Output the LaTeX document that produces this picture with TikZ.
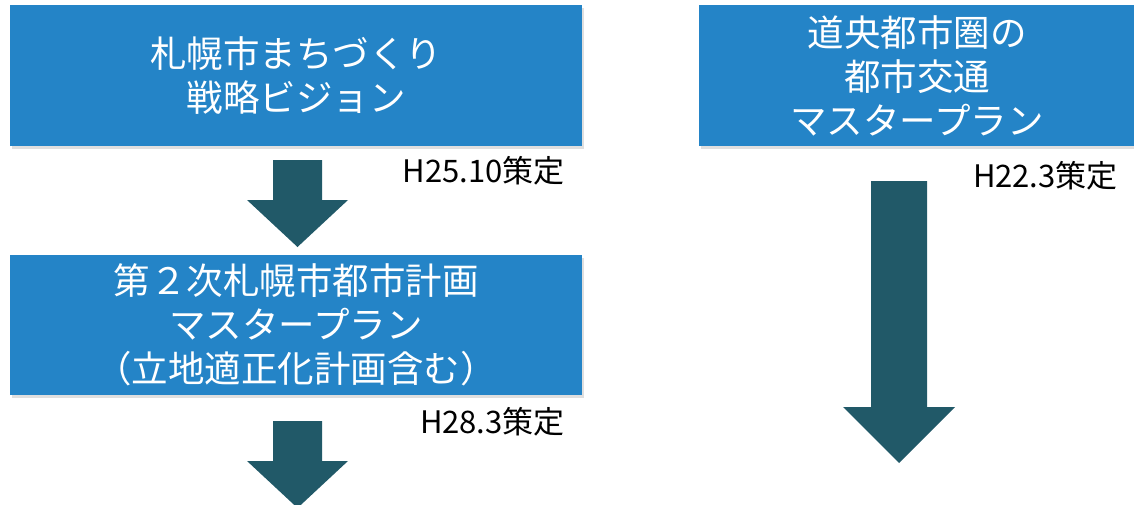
\documentclass[tikz,border=0pt]{standalone}
\usepackage{fontspec}
\setmainfont{Noto Sans CJK JP}
\newfontfamily\jpfont{Noto Sans CJK JP}
\usetikzlibrary{shadows}
\definecolor{boxblue}{RGB}{36,132,199}
\definecolor{arrowteal}{RGB}{33,89,104}
\tikzset{
  planbox/.style={fill=boxblue, draw=none, text=white, align=center,
    inner sep=0pt, font=\jpfont\fontsize{36.5}{44}\selectfont,
    drop shadow={opacity=0.25, shadow xshift=2pt, shadow yshift=-3pt}},
  datelabel/.style={text=black, inner sep=0pt, anchor=east,
    font=\jpfont\fontsize{31}{34}\selectfont},
  blockarrow/.style={fill=arrowteal, draw=none}
}
\begin{document}
\begin{tikzpicture}[x=1pt,y=-1pt]
\useasboundingbox (0,0) rectangle (1134,504);
\node[planbox, minimum width=572pt, minimum height=141pt] (vision) at (296,75.5)
  {札幌市まちづくり\\戦略ビジョン};
\node[planbox, minimum width=572pt, minimum height=140pt] (master) at (296,325)
  {第２次札幌市都市計画\\マスタープラン\\（立地適正化計画含む）};
\node[planbox, minimum width=436pt, minimum height=141pt] (transport) at (917,75.5)
  {道央都市圏の\\都市交通\\マスタープラン};
\node[datelabel] (d1) at (565,171) {H25.10策定};
\node[datelabel] (d2) at (565,422) {H28.3策定};
\node[datelabel] (d3) at (1118,176) {H22.3策定};
% block arrows
\fill[blockarrow] (273,160) -- (322,160) -- (322,200) -- (348,200) -- (297.5,247)
  -- (247,200) -- (273,200) -- cycle;
\fill[blockarrow] (273,421) -- (322,421) -- (322,461) -- (348,461) -- (297.5,508)
  -- (247,461) -- (273,461) -- cycle;
\fill[blockarrow] (871,181) -- (927,181) -- (927,407) -- (955,407) -- (899,463)
  -- (843,407) -- (871,407) -- cycle;
\end{tikzpicture}
\end{document}
